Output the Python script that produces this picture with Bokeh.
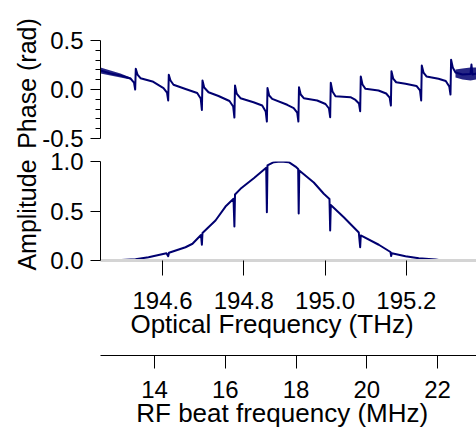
import math
from bokeh.plotting import figure
from bokeh.models import FixedTicker, PrintfTickFormatter, Range1d, Label, GridBox
from bokeh.embed import file_html
from bokeh.resources import INLINE

# ---------------- data ----------------
phase_thz = [194.4475, 194.4721, 194.4967, 194.5213, 194.5299, 194.5328, 194.5343, 194.5385,
             194.5459, 194.5754, 194.6025, 194.6111, 194.6140, 194.6155, 194.6197, 194.6271,
             194.6566, 194.6854, 194.6940, 194.6969, 194.6984, 194.7026, 194.7132, 194.7378,
             194.7648, 194.7739, 194.7769, 194.7784, 194.7825, 194.7919, 194.8239, 194.8453,
             194.8539, 194.8568, 194.8583, 194.8625, 194.8699, 194.9068, 194.9228, 194.9314,
             194.9343, 194.9358, 194.9400, 194.9476, 194.9806, 195.0010, 195.0096, 195.0125,
             195.0140, 195.0182, 195.0256, 195.0625, 195.0748, 195.0834, 195.0863, 195.0878,
             195.0920, 195.0994, 195.1314, 195.1503, 195.1589, 195.1619, 195.1633, 195.1675,
             195.1749, 195.1978, 195.2248, 195.2335, 195.2364, 195.2379, 195.2421, 195.2494,
             195.2790, 195.2969, 195.3055, 195.3085, 195.3100, 195.3141, 195.3208, 195.3380,
             195.3577, 195.3601, 195.3626, 195.3725]
phase_rad = [0.194, 0.163, 0.143, 0.112, 0.071, 0.000, 0.211, 0.153,
             0.115, 0.082, 0.015, -0.031, -0.112, 0.150, 0.092, 0.048,
             0.005, -0.036, -0.092, -0.209, 0.092, 0.020, -0.028, -0.066,
             -0.117, -0.173, -0.286, 0.041, -0.041, -0.089, -0.130, -0.163,
             -0.224, -0.327, 0.015, -0.061, -0.095, -0.156, -0.189, -0.235,
             -0.327, 0.023, -0.051, -0.089, -0.112, -0.148, -0.194, -0.283,
             0.068, -0.020, -0.068, -0.079, -0.107, -0.143, -0.221, 0.133,
             0.051, 0.007, -0.010, -0.041, -0.082, -0.163, 0.187, 0.112,
             0.074, 0.058, 0.036, -0.010, -0.112, 0.245, 0.173, 0.133,
             0.109, 0.087, 0.031, -0.051, 0.303, 0.224, 0.173, 0.153,
             0.158, 0.255, 0.153, 0.163]

# noisy stretches at both ends of the phase trace (envelope)
noise_left_thz = [194.4475, 194.4721, 194.4967, 194.5213]
noise_left_hi = [0.224, 0.194, 0.163, 0.122]
noise_left_lo = [0.163, 0.143, 0.122, 0.102]
noise_right_thz = [195.3208, 195.3380, 195.3577, 195.3725]
noise_right_hi = [0.204, 0.214, 0.224, 0.224]
noise_right_lo = [0.122, 0.102, 0.092, 0.102]

amp_thz = [194.4991, 194.5336, 194.5656, 194.6098, 194.6140, 194.6160, 194.6566, 194.6738,
           194.6947, 194.6969, 194.6984, 194.7304, 194.7550, 194.7747, 194.7769, 194.7784,
           194.7919, 194.8246, 194.8551, 194.8568, 194.8583, 194.8738, 194.8903, 194.9107,
           194.9272, 194.9338, 194.9351, 194.9365, 194.9722, 194.9968, 195.0108, 195.0125,
           195.0140, 195.0460, 195.0829, 195.0863, 195.0878, 195.1321, 195.1609, 195.1626,
           195.1641, 195.1978, 195.2305, 195.2716, 195.2839]
amp_val = [0.005, 0.012, 0.033, 0.073, 0.043, 0.078, 0.134, 0.169,
           0.258, 0.159, 0.278, 0.404, 0.545, 0.623, 0.343, 0.667,
           0.724, 0.831, 0.936, 0.488, 0.960, 0.993, 1.000, 0.993,
           0.949, 0.924, 0.475, 0.909, 0.788, 0.674, 0.621, 0.303,
           0.561, 0.437, 0.283, 0.134, 0.253, 0.159, 0.086, 0.045,
           0.074, 0.043, 0.023, 0.010, 0.003]

opt_ticks = [194.6, 194.8, 195.0, 195.2]
rf_ticks = [14, 16, 18, 20, 22]
phase_ticks = [-0.5, 0.0, 0.5]
phase_minor = [-0.4, -0.3, -0.2, -0.1, 0.1, 0.2, 0.3, 0.4]
amp_ticks = [0.0, 0.5, 1.0]

opt_range = (194.4475, 195.3725)
rf_range = (12.47, 23.10)
phase_range = (-0.5, 0.5)
amp_range = (0.0, 1.0)

# ---------------- layout / styling ----------------
FONT = "Liberation Sans"
TICK_FS = "24px"
LAB_FS = "26px"
YLAB_FS = "25px"
LINE_COL = "#000070"
W, H = 476, 430
LEFT = 100


def style_fig(p):
    p.grid.visible = False
    p.outline_line_color = None
    p.background_fill_color = None
    p.border_fill_color = None


def style_axis(ax, fmt):
    ax.formatter = PrintfTickFormatter(format=fmt)
    ax.major_label_text_font = FONT
    ax.major_label_text_font_size = TICK_FS
    ax.major_label_text_color = "black"
    ax.axis_line_color = "black"
    ax.major_tick_line_color = "black"
    ax.minor_tick_line_color = "black"
    ax.major_tick_in = 0
    ax.minor_tick_in = 0


# ---- top: phase ----
p1 = figure(width=W, height=155, x_range=Range1d(*opt_range), y_range=Range1d(*phase_range),
            output_backend="svg", toolbar_location=None,
            min_border_left=LEFT, min_border_right=0, min_border_top=40, min_border_bottom=17)
style_fig(p1)
p1.xaxis.visible = False
ya = p1.yaxis[0]
ya.ticker = FixedTicker(ticks=phase_ticks, minor_ticks=phase_minor)
style_axis(ya, "%.1f")
ya.major_tick_out = 10
ya.minor_tick_out = 5
ya.major_label_standoff = 7
p1.varea(x=noise_left_thz, y1=noise_left_lo, y2=noise_left_hi, fill_color=LINE_COL, fill_alpha=0.85)
p1.varea(x=noise_right_thz, y1=noise_right_lo, y2=noise_right_hi, fill_color=LINE_COL, fill_alpha=0.85)
p1.line(phase_thz, phase_rad, line_color=LINE_COL, line_width=2, line_join="round")

# ---- middle: amplitude ----
p2 = figure(width=W, height=199, x_range=p1.x_range, y_range=Range1d(*amp_range),
            output_backend="svg", toolbar_location=None,
            min_border_left=LEFT, min_border_right=0, min_border_top=16, min_border_bottom=84)
style_fig(p2)
ya2 = p2.yaxis[0]
ya2.ticker = FixedTicker(ticks=amp_ticks, minor_ticks=[])
style_axis(ya2, "%.1f")
ya2.major_tick_out = 10
ya2.minor_tick_out = 0
ya2.major_label_standoff = 7
xa2 = p2.xaxis[0]
xa2.ticker = FixedTicker(ticks=opt_ticks, minor_ticks=[])
style_axis(xa2, "%.1f")
xa2.axis_line_color = "#d4d4d4"
xa2.axis_line_width = 3
xa2.major_tick_out = 15
xa2.minor_tick_out = 0
xa2.major_label_standoff = 16
p2.line(amp_thz, amp_val, line_color=LINE_COL, line_width=2, line_join="round")

# ---- bottom: RF beat frequency axis ----
p3 = figure(width=W, height=86, x_range=Range1d(*rf_range), y_range=Range1d(0, 1),
            output_backend="svg", toolbar_location=None,
            min_border_left=LEFT, min_border_right=0, min_border_top=10, min_border_bottom=75)
style_fig(p3)
p3.yaxis.visible = False
xa3 = p3.xaxis[0]
xa3.ticker = FixedTicker(ticks=rf_ticks, minor_ticks=[])
style_axis(xa3, "%d")
xa3.major_tick_out = 13
xa3.minor_tick_out = 0
xa3.major_label_standoff = 12

# ---- transparent overlay carrying the axis titles ----
ov = figure(width=W, height=H, x_range=Range1d(0, 1), y_range=Range1d(0, 1),
            output_backend="svg", toolbar_location=None, min_border=0)
ov.frame_align = False
style_fig(ov)
ov.axis.visible = False
titles = [("Phase (rad)", 26, H - 83, math.pi / 2, YLAB_FS),
          ("Amplitude", 26, H - 214.5, math.pi / 2, YLAB_FS),
          ("Optical Frequency (THz)", 271.5, H - 323, 0.0, LAB_FS),
          ("RF beat frequency (MHz)", 281.7, H - 412.5, 0.0, LAB_FS)]
for txt, sx, sy, ang, fs in titles:
    ov.add_layout(Label(x=sx, y=sy, x_units="screen", y_units="screen", text=txt,
                        angle=ang, text_align="center", text_baseline="alphabetic",
                        text_font=FONT, text_font_size=fs, text_color="black"))

grid = GridBox(children=[(p1, 0, 0, 2, 1), (p2, 1, 0, 2, 1), (p3, 3, 0), (ov, 0, 0, 4, 1)],
               rows=["145px", "10px", "189px", "86px"], cols=["476px"], spacing=0)
open("out.html", "w").write(file_html(grid, INLINE))
